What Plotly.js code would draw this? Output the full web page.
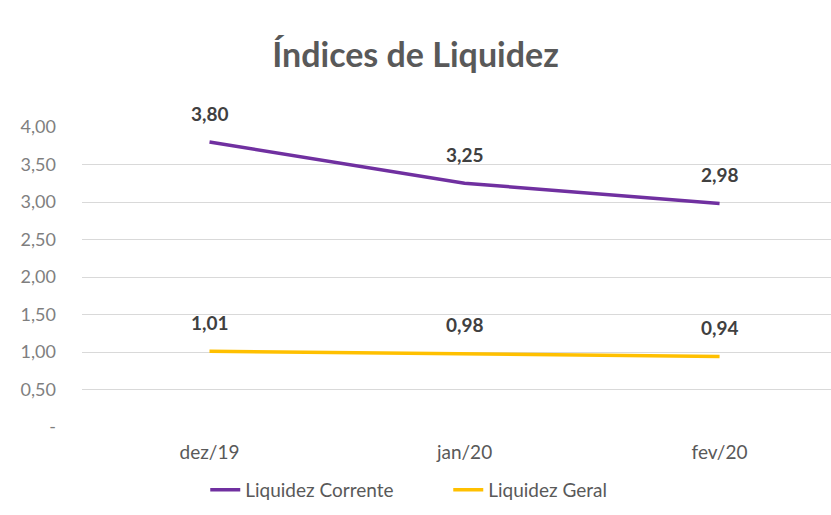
<!DOCTYPE html>
<html>
<head>
<meta charset="utf-8">
<script src="https://cdn.plot.ly/plotly-3.0.1.min.js"></script>
<style>html,body{margin:0;padding:0;background:#fff;}#chart{width:831px;height:515px;}</style>
</head>
<body>
<div id="chart"></div>
<script>
const categories = ['dez/19', 'jan/20', 'fev/20'];
const liquidezCorrente = [3.80, 3.25, 2.98];
const liquidezGeral = [1.01, 0.98, 0.94];
const yTickVals = [0, 0.5, 1, 1.5, 2, 2.5, 3, 3.5, 4];
const yTickText = ['-', '0,50', '1,00', '1,50', '2,00', '2,50', '3,00', '3,50', '4,00'];

const fmt = v => v.toFixed(2).replace('.', ',');
const FONT = 'Lato, "Open Sans", sans-serif';

const traces = [
  {x: categories, y: liquidezCorrente, name: 'Liquidez Corrente', type: 'scatter', mode: 'lines',
   line: {color: '#7030A0', width: 3.5}},
  {x: categories, y: liquidezGeral, name: 'Liquidez Geral', type: 'scatter', mode: 'lines',
   line: {color: '#FFC000', width: 3.5}}
];

const annotations = [];
[liquidezCorrente, liquidezGeral].forEach(series => {
  series.forEach((v, i) => {
    annotations.push({x: categories[i], y: v, text: '<b>' + fmt(v) + '</b>', showarrow: false,
      yshift: 29, font: {family: FONT, size: 19, color: '#404040'}});
  });
});

const layout = {
  width: 831, height: 515,
  margin: {l: 82, r: 0, t: 127, b: 88},
  paper_bgcolor: '#fff', plot_bgcolor: '#fff',
  font: {family: FONT, color: '#595959'},
  title: {text: '<b>Índices de Liquidez</b>', x: 0.5, xanchor: 'center', y: 0.893, yanchor: 'middle',
    font: {family: FONT, size: 34, color: '#595959'}},
  xaxis: {type: 'category', range: [-0.5, 2.437], showgrid: false, zeroline: false, showline: false,
    ticks: '', ticklabelstandoff: 12, tickfont: {family: FONT, size: 19, color: '#595959'}, fixedrange: true},
  yaxis: {range: [0, 4], tickvals: yTickVals, ticktext: yTickText, showgrid: true, gridcolor: '#D9D9D9',
    gridwidth: 1, zeroline: false, showline: false, ticks: '', ticklabelstandoff: 25,
    tickfont: {family: FONT, size: 18, color: '#7f7f7f'}},
  showlegend: true,
  legend: {orientation: 'h', x: 0.489, xanchor: 'center', y: -0.21, yanchor: 'middle',
    font: {family: FONT, size: 19, color: '#595959'}, itemwidth: 30, tracegroupgap: 0,
    entrywidth: 198},
  annotations: annotations
};

Plotly.newPlot('chart', traces, layout, {displayModeBar: false, staticPlot: true});
</script>
</body>
</html>
